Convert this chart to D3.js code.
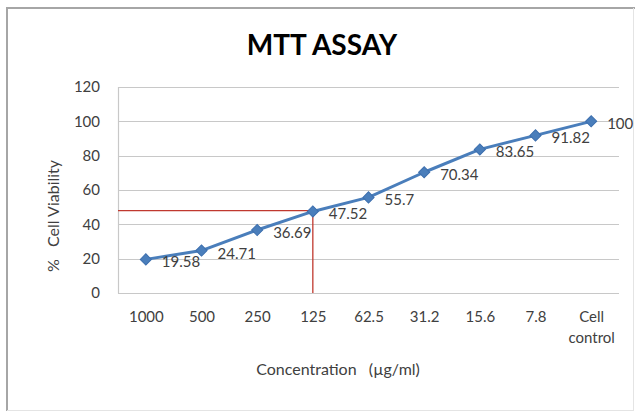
<!DOCTYPE html>
<html>
<head>
<meta charset="utf-8">
<script src="https://cdn.jsdelivr.net/npm/d3@7"></script>
<style>
  html, body { margin: 0; padding: 0; background: #fff; }
  svg { display: block; }
  text { font-family: Lato, "Open Sans", sans-serif; white-space: pre; }
</style>
</head>
<body>
<svg id="chart" width="635" height="412"></svg>
<script>
// ---- data ----
const categories = ["1000", "500", "250", "125", "62.5", "31.2", "15.6", "7.8", "Cell control"];
const viability = [19.58, 24.71, 36.69, 47.52, 55.7, 70.34, 83.65, 91.82, 100];
const dataLabels = ["19.58", "24.71", "36.69", "47.52", "55.7", "70.34", "83.65", "91.82", "100"];
const yTicks = [0, 20, 40, 60, 80, 100, 120];
const ic50Value = 48;          // red guide line level
const ic50Category = "125";     // red guide line category
const title = "MTT ASSAY";
const xTitle = "Concentration   (µg/ml)";
const yTitle = "%   Cell Viability";

// ---- layout ----
const W = 635, H = 412;
const plot = { left: 118, right: 619, top: 87, bottom: 293 };
const textColor = "#404040";
const svg = d3.select("#chart");

// outer border
svg.append("line").attr("x1", 7).attr("x2", 7).attr("y1", 8).attr("y2", 411)
  .attr("stroke", "#a6a6a6").attr("stroke-width", 2);
svg.append("line").attr("x1", 6).attr("x2", 635).attr("y1", 8).attr("y2", 8)
  .attr("stroke", "#a6a6a6").attr("stroke-width", 2);
svg.append("line").attr("x1", 633.5).attr("x2", 633.5).attr("y1", 8).attr("y2", 411)
  .attr("stroke", "#e4e4e4").attr("stroke-width", 1);
svg.append("line").attr("x1", 7).attr("x2", 634).attr("y1", 410.5).attr("y2", 410.5)
  .attr("stroke", "#e4e4e4").attr("stroke-width", 1);

const x = d3.scalePoint().domain(categories).range([plot.left, plot.right]).padding(0.5);
const y = d3.scaleLinear().domain([0, 120]).range([plot.bottom, plot.top]);

// gridlines
svg.append("g").selectAll("line").data(yTicks).join("line")
  .attr("x1", plot.left).attr("x2", plot.right)
  .attr("y1", d => Math.round(y(d)) + 0.5).attr("y2", d => Math.round(y(d)) + 0.5)
  .attr("stroke", "#c8c8c8").attr("stroke-width", 1.2);

// y axis line
svg.append("line").attr("x1", plot.left + 0.5).attr("x2", plot.left + 0.5)
  .attr("y1", plot.top).attr("y2", plot.bottom + 0.5)
  .attr("stroke", "#c8c8c8").attr("stroke-width", 1.2);

// y axis tick labels
const yAxis = d3.axisLeft(y).tickValues(yTicks).tickSize(0).tickPadding(18);
const gy = svg.append("g").attr("transform", `translate(${plot.left},0)`).call(yAxis);
gy.select(".domain").remove();
gy.selectAll("text").attr("font-size", 15).attr("fill", textColor)
  .attr("font-family", "Lato, sans-serif");

// x axis tick labels (custom wrapping)
const xAxis = d3.axisBottom(x).tickSize(0).tickPadding(0).tickFormat("");
const gx = svg.append("g").attr("transform", `translate(0,${plot.bottom})`).call(xAxis);
gx.select(".domain").remove();
gx.selectAll(".tick").each(function(d) {
  const t = d3.select(this).append("text")
    .attr("text-anchor", "middle").attr("font-size", 15).attr("fill", textColor)
    .attr("font-family", "Lato, sans-serif");
  const words = d.split(" ");
  words.forEach((w, i) => {
    t.append("tspan").attr("x", 0).attr("y", 29 + i * 21).text(w);
  });
});

// red guide lines
const gx50 = x(ic50Category);
svg.append("line").attr("x1", plot.left).attr("x2", gx50)
  .attr("y1", y(ic50Value)).attr("y2", y(ic50Value))
  .attr("stroke", "#c0392f").attr("stroke-width", 1.3);
svg.append("line").attr("x1", gx50).attr("x2", gx50)
  .attr("y1", y(ic50Value)).attr("y2", plot.bottom)
  .attr("stroke", "#c0392f").attr("stroke-width", 1.3);

// series line
const line = d3.line().x((d, i) => x(categories[i])).y(d => y(d));
svg.append("path").datum(viability).attr("d", line)
  .attr("fill", "none").attr("stroke", "#4a7ebb").attr("stroke-width", 3)
  .attr("stroke-linejoin", "round");

// markers
const diamond = d3.symbol().type(d3.symbolSquare).size(62);
svg.append("g").selectAll("path").data(viability).join("path")
  .attr("d", diamond)
  .attr("transform", (d, i) => `translate(${x(categories[i])},${y(d)}) rotate(45)`)
  .attr("fill", "#4a7ebb").attr("stroke", "#3d6fae").attr("stroke-width", 1);

// data labels
svg.append("g").selectAll("text").data(viability).join("text")
  .attr("x", (d, i) => x(categories[i]) + 16)
  .attr("y", d => y(d) + 8)
  .attr("font-size", 15).attr("fill", textColor)
  .text((d, i) => dataLabels[i]);

// title
svg.append("text").attr("x", 322).attr("y", 55).attr("text-anchor", "middle")
  .attr("font-size", 28).attr("font-weight", "bold").attr("fill", "#000")
  .text(title);

// axis titles
svg.append("text").attr("x", 338).attr("y", 375).attr("text-anchor", "middle")
  .attr("font-size", 16).attr("fill", textColor).text(xTitle);
svg.append("text").attr("transform", "translate(59,216) rotate(-90)")
  .attr("text-anchor", "middle").attr("font-size", 16).attr("fill", textColor)
  .text(yTitle);
</script>
</body>
</html>
